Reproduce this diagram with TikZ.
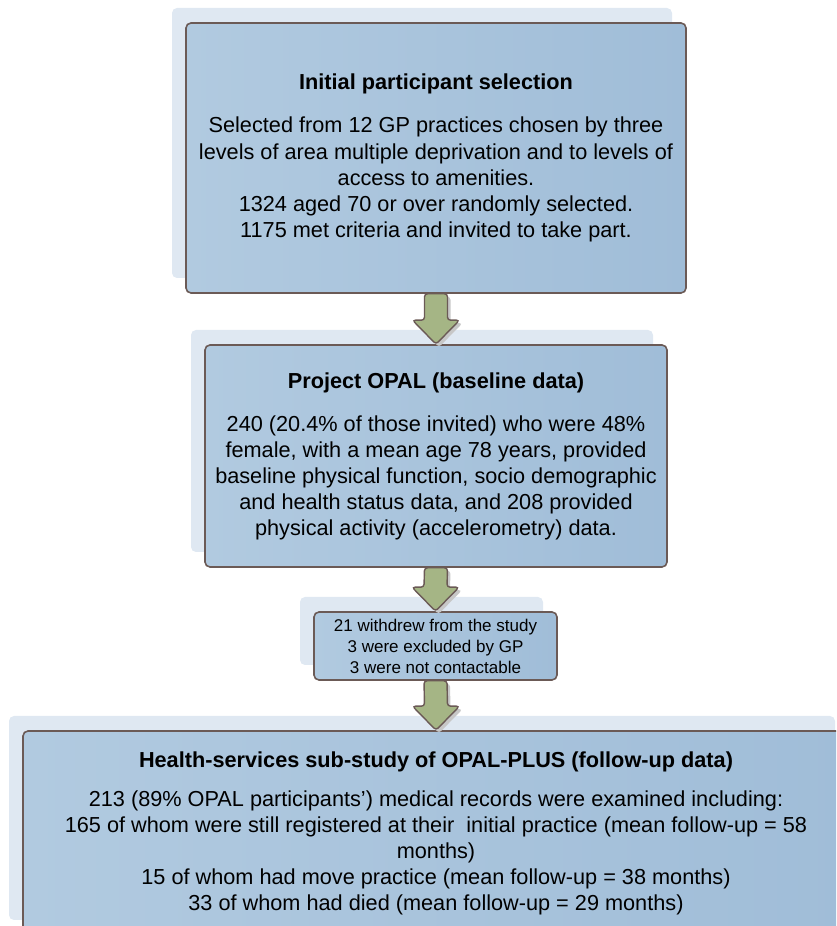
\documentclass[tikz,border=0pt]{standalone}
\usepackage{fontspec}
\setmainfont{Liberation Sans}
\usetikzlibrary{calc}
\usetikzlibrary{shadows}
\definecolor{boxedge}{HTML}{6B5A56}
\definecolor{boxlight}{HTML}{B1CAE0}
\definecolor{boxdark}{HTML}{A0BDD8}
\definecolor{backblue}{HTML}{DFE8F2}
\definecolor{arrowgreen}{HTML}{A5B585}

\begin{document}
\begin{tikzpicture}[x = 1pt, y = 1pt]
\tikzstyle{stageStyle}=[draw = boxedge, line width = 1.6pt, rounded corners = 5pt, left color = boxlight, right color = boxdark, align = center, inner sep = 0pt, general shadow = {fill = backblue, shadow xshift = -14pt, shadow yshift = 15pt}]
\tikzstyle{bigText}=[font = \fontsize{21.7}{25.8}\selectfont]
\tikzstyle{smallText}=[font = \fontsize{17}{21}\selectfont]
\tikzstyle{flowArrow}=[draw = boxedge, line width = 1.4pt, fill = arrowgreen, rounded corners = 3pt, drop shadow = {shadow xshift = 3pt, shadow yshift = -3pt, fill = black!22, opacity = 1}]
\clip (0,0) rectangle (836,926);
\node[stageStyle, font = \fontsize{21.7}{26.1}\selectfont, minimum width = 500pt, minimum height = 270pt] (box1) at (436,768) {\textbf{Initial participant selection}\\[17pt]Selected from 12 GP practices chosen by three\\levels of area multiple deprivation and to levels of\\access to amenities.\\1324 aged 70 or over randomly selected.\\1175 met criteria and invited to take part.};
\node[stageStyle, bigText, minimum width = 462pt, minimum height = 222pt] (box2) at (436,470) {\textbf{Project OPAL (baseline data)}\\[18pt]240 (20.4\% of those invited) who were 48\%\\female, with a mean age 78 years, provided\\baseline physical function, socio demographic\\and health status data, and 208 provided\\physical activity (accelerometry) data.};
\node[stageStyle, smallText, minimum width = 243pt, minimum height = 68pt] (box3) at (435.5,280) {21 withdrew from the study\\3 were excluded by GP\\3 were not contactable};
\node[stageStyle, bigText, minimum width = 826pt, minimum height = 204pt] (box4) at (436,93) {\textbf{Health-services sub-study of OPAL-PLUS (follow-up data)}\\[14pt]213 (89\% OPAL participants’) medical records were examined including:\\165 of whom were still registered at their\ \ initial practice (mean follow-up = 58\\months)\\15 of whom had move practice (mean follow-up = 38 months)\\33 of whom had died (mean follow-up = 29 months)};
\foreach \a/\b in {box1/box2, box2/box3, box3/box4}
  \draw[flowArrow] ($(\a.south)+(-11.5,0)$) -- ($(\b.north)+(-11.5,24)$) -- ($(\b.north)+(-23.5,24)$) -- (\b.north) -- ($(\b.north)+(23.5,24)$) -- ($(\b.north)+(11.5,24)$) -- ($(\a.south)+(11.5,0)$) -- cycle;
\end{tikzpicture}
\end{document}
